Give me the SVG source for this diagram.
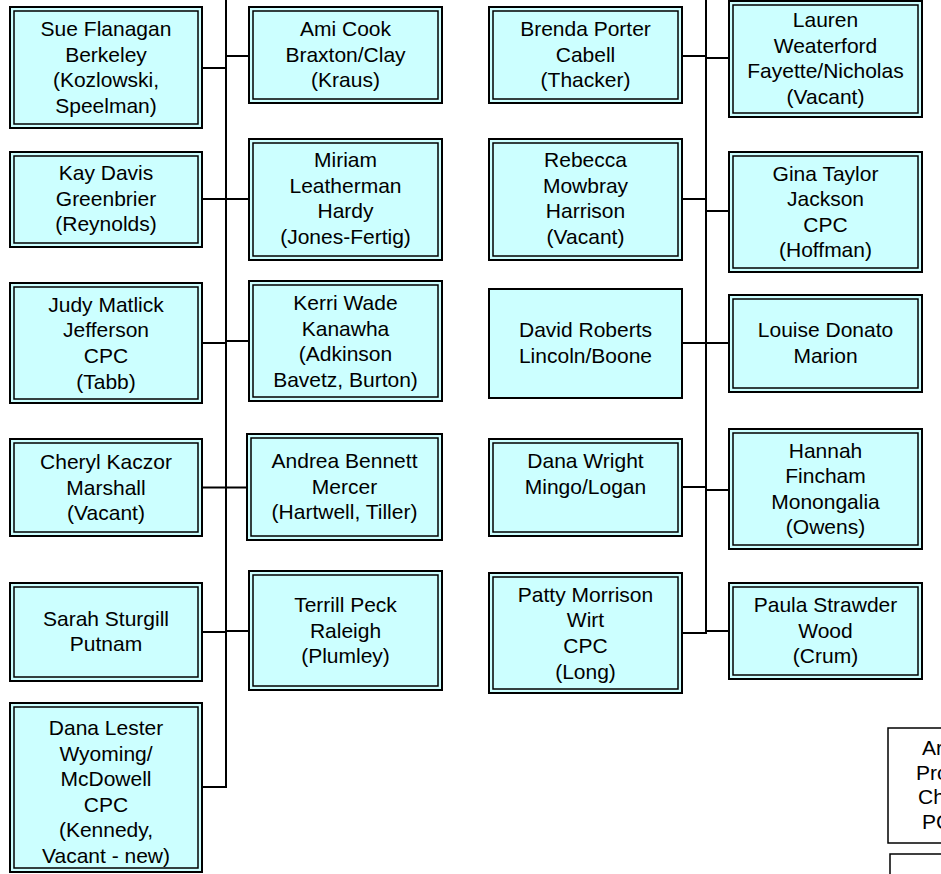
<svg xmlns="http://www.w3.org/2000/svg" width="941" height="874" viewBox="0 0 941 874">
<style>
.o{fill:#CCFFFF;stroke:#000;stroke-width:2}
.i{fill:none;stroke:#000;stroke-width:1.5}
.t{font-family:"Liberation Sans",Arial,sans-serif;font-size:21px;text-anchor:middle;fill:#000}
.ts{font-family:"Liberation Sans",Arial,sans-serif;font-size:21px;text-anchor:start;fill:#000}
.c{stroke:#000;stroke-width:2;fill:none}
.w{fill:#fff;stroke:#000;stroke-width:1.5}
</style>
<rect width="941" height="874" fill="#fff"/>
<g id="connectors" class="c">
<path d="M226 0V787H202M202 68H226M226 56H249M202 199H249M202 343H226M226 341H249M202 487.5H247M202 632H226M226 631H249"/>
<path d="M706 0V633H682M682 56H706M706 58H729M682 199H706M706 211H729M682 343H729M682 487H706M706 490H729M706 631H729"/>
</g>
<g id="sue">
<rect class="o" x="10" y="7" width="192" height="121"/><rect class="i" x="14" y="11" width="184" height="113"/>
<text class="t" x="106" y="36"><tspan x="106">Sue Flanagan</tspan><tspan x="106" dy="25.6">Berkeley</tspan><tspan x="106" dy="25.6">(Kozlowski,</tspan><tspan x="106" dy="25.6">Speelman)</tspan></text>
</g>
<g id="kay">
<rect class="o" x="10" y="152" width="192" height="95"/><rect class="i" x="14" y="156" width="184" height="87"/>
<text class="t" x="106" y="180"><tspan x="106">Kay Davis</tspan><tspan x="106" dy="25.6">Greenbrier</tspan><tspan x="106" dy="25.6">(Reynolds)</tspan></text>
</g>
<g id="judy">
<rect class="o" x="10" y="283" width="192" height="120"/><rect class="i" x="14" y="287" width="184" height="112"/>
<text class="t" x="106" y="311.7"><tspan x="106">Judy Matlick</tspan><tspan x="106" dy="25.6">Jefferson</tspan><tspan x="106" dy="25.6">CPC</tspan><tspan x="106" dy="25.6">(Tabb)</tspan></text>
</g>
<g id="cheryl">
<rect class="o" x="10" y="439" width="192" height="97"/><rect class="i" x="14" y="443" width="184" height="89"/>
<text class="t" x="106" y="469"><tspan x="106">Cheryl Kaczor</tspan><tspan x="106" dy="25.6">Marshall</tspan><tspan x="106" dy="25.6">(Vacant)</tspan></text>
</g>
<g id="sarah">
<rect class="o" x="10" y="583" width="192" height="98"/><rect class="i" x="14" y="587" width="184" height="90"/>
<text class="t" x="106" y="625.5"><tspan x="106">Sarah Sturgill</tspan><tspan x="106" dy="25.6">Putnam</tspan></text>
</g>
<g id="danalester">
<rect class="o" x="10" y="703" width="192" height="169"/><rect class="i" x="14" y="707" width="184" height="161"/>
<text class="t" x="106" y="735"><tspan x="106">Dana Lester</tspan><tspan x="106" dy="25.6">Wyoming/</tspan><tspan x="106" dy="25.6">McDowell</tspan><tspan x="106" dy="25.6">CPC</tspan><tspan x="106" dy="25.6">(Kennedy,</tspan><tspan x="106" dy="25.6">Vacant - new)</tspan></text>
</g>
<g id="ami">
<rect class="o" x="249" y="7" width="193" height="96"/><rect class="i" x="253" y="11" width="185" height="88"/>
<text class="t" x="345.5" y="36"><tspan x="345.5">Ami Cook</tspan><tspan x="345.5" dy="25.6">Braxton/Clay</tspan><tspan x="345.5" dy="25.6">(Kraus)</tspan></text>
</g>
<g id="miriam">
<rect class="o" x="249" y="139" width="193" height="121"/><rect class="i" x="253" y="143" width="185" height="113"/>
<text class="t" x="345.5" y="167"><tspan x="345.5">Miriam</tspan><tspan x="345.5" dy="25.6">Leatherman</tspan><tspan x="345.5" dy="25.6">Hardy</tspan><tspan x="345.5" dy="25.6">(Jones-Fertig)</tspan></text>
</g>
<g id="kerri">
<rect class="o" x="249" y="281" width="193" height="120"/><rect class="i" x="253" y="285" width="185" height="112"/>
<text class="t" x="345.5" y="310"><tspan x="345.5">Kerri Wade</tspan><tspan x="345.5" dy="25.6">Kanawha</tspan><tspan x="345.5" dy="25.6">(Adkinson</tspan><tspan x="345.5" dy="25.6">Bavetz, Burton)</tspan></text>
</g>
<g id="andrea">
<rect class="o" x="247" y="434" width="195" height="106"/><rect class="i" x="251" y="438" width="187" height="98"/>
<text class="t" x="344.5" y="468"><tspan x="344.5">Andrea Bennett</tspan><tspan x="344.5" dy="25.6">Mercer</tspan><tspan x="344.5" dy="25.6">(Hartwell, Tiller)</tspan></text>
</g>
<g id="terrill">
<rect class="o" x="249" y="571" width="193" height="119"/><rect class="i" x="253" y="575" width="185" height="111"/>
<text class="t" x="345.5" y="612"><tspan x="345.5">Terrill Peck</tspan><tspan x="345.5" dy="25.6">Raleigh</tspan><tspan x="345.5" dy="25.6">(Plumley)</tspan></text>
</g>
<g id="brenda">
<rect class="o" x="489" y="7" width="193" height="96"/><rect class="i" x="493" y="11" width="185" height="88"/>
<text class="t" x="585.5" y="36"><tspan x="585.5">Brenda Porter</tspan><tspan x="585.5" dy="25.6">Cabell</tspan><tspan x="585.5" dy="25.6">(Thacker)</tspan></text>
</g>
<g id="rebecca">
<rect class="o" x="489" y="139" width="193" height="121"/><rect class="i" x="493" y="143" width="185" height="113"/>
<text class="t" x="585.5" y="167"><tspan x="585.5">Rebecca</tspan><tspan x="585.5" dy="25.6">Mowbray</tspan><tspan x="585.5" dy="25.6">Harrison</tspan><tspan x="585.5" dy="25.6">(Vacant)</tspan></text>
</g>
<g id="david">
<rect class="o" x="489" y="289" width="193" height="109"/>
<text class="t" x="585.5" y="337"><tspan x="585.5">David Roberts</tspan><tspan x="585.5" dy="25.6">Lincoln/Boone</tspan></text>
</g>
<g id="danawright">
<rect class="o" x="489" y="439" width="193" height="97"/><rect class="i" x="493" y="443" width="185" height="89"/>
<text class="t" x="585.5" y="468"><tspan x="585.5">Dana Wright</tspan><tspan x="585.5" dy="25.6">Mingo/Logan</tspan></text>
</g>
<g id="patty">
<rect class="o" x="489" y="573" width="193" height="120"/><rect class="i" x="493" y="577" width="185" height="112"/>
<text class="t" x="585.5" y="601.7"><tspan x="585.5">Patty Morrison</tspan><tspan x="585.5" dy="25.6">Wirt</tspan><tspan x="585.5" dy="25.6">CPC</tspan><tspan x="585.5" dy="25.6">(Long)</tspan></text>
</g>
<g id="lauren">
<rect class="o" x="729" y="1" width="193" height="116"/><rect class="i" x="733" y="5" width="185" height="108"/>
<text class="t" x="825.5" y="27"><tspan x="825.5">Lauren</tspan><tspan x="825.5" dy="25.6">Weaterford</tspan><tspan x="825.5" dy="25.6">Fayette/Nicholas</tspan><tspan x="825.5" dy="25.6">(Vacant)</tspan></text>
</g>
<g id="gina">
<rect class="o" x="729" y="152" width="193" height="120"/><rect class="i" x="733" y="156" width="185" height="112"/>
<text class="t" x="825.5" y="180.5"><tspan x="825.5">Gina Taylor</tspan><tspan x="825.5" dy="25.6">Jackson</tspan><tspan x="825.5" dy="25.6">CPC</tspan><tspan x="825.5" dy="25.6">(Hoffman)</tspan></text>
</g>
<g id="louise">
<rect class="o" x="729" y="295" width="193" height="97"/><rect class="i" x="733" y="299" width="185" height="89"/>
<text class="t" x="825.5" y="337"><tspan x="825.5">Louise Donato</tspan><tspan x="825.5" dy="25.6">Marion</tspan></text>
</g>
<g id="hannah">
<rect class="o" x="729" y="429" width="193" height="120"/><rect class="i" x="733" y="433" width="185" height="112"/>
<text class="t" x="825.5" y="457.5"><tspan x="825.5">Hannah</tspan><tspan x="825.5" dy="25.6">Fincham</tspan><tspan x="825.5" dy="25.6">Monongalia</tspan><tspan x="825.5" dy="25.6">(Owens)</tspan></text>
</g>
<g id="paula">
<rect class="o" x="729" y="583" width="193" height="96"/><rect class="i" x="733" y="587" width="185" height="88"/>
<text class="t" x="825.5" y="612"><tspan x="825.5">Paula Strawder</tspan><tspan x="825.5" dy="25.6">Wood</tspan><tspan x="825.5" dy="25.6">(Crum)</tspan></text>
</g>
<g id="areabox">
<rect class="w" x="888" y="728" width="80" height="115"/>
<text class="ts" x="922" y="755">Ar</text>
<text class="ts" x="916" y="780">Pro</text>
<text class="ts" x="918" y="804">Ch</text>
<text class="ts" x="922" y="829">PC</text>
</g>
<g id="lowerbox">
<rect class="w" x="890" y="854" width="80" height="40"/>
</g>
</svg>
